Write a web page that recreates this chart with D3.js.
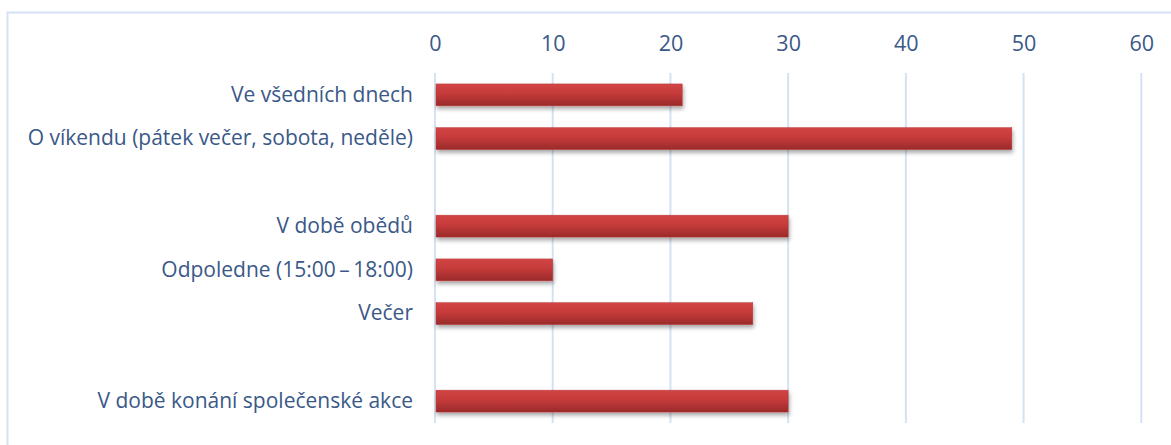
<!DOCTYPE html>
<html>
<head>
<meta charset="utf-8">
<script src="https://cdn.jsdelivr.net/npm/d3@7"></script>
<style>
  html, body { margin: 0; padding: 0; background: #fff; }
  svg { display: block; }
</style>
</head>
<body>
<svg id="chart" width="1171" height="445"></svg>
<script>
// Categories top to bottom; empty strings are spacer rows between groups
const categories = [
  "Ve všedních dnech",
  "O víkendu (pátek večer, sobota, neděle)",
  "",
  "V době obědů",
  "Odpoledne (15:00\u2009–\u200918:00)",
  "Večer",
  " ",
  "V době konání společenské akce"
];
const values = [21, 49, null, 30, 10, 27, null, 30];
const tickValues = [0, 10, 20, 30, 40, 50, 60];

const rows = categories.map((c, i) => ({ key: i, label: c, value: values[i] }));

const W = 1171, H = 445;
const plot = { left: 435, right: 1141.3, top: 73, bottom: 423 };
const textColor = "#3a5888";
const gridColor = "#d4e2f3";
const font = "Open Sans, Liberation Sans, sans-serif";

const svg = d3.select("#chart");

// Outer frame (top and left edges)
svg.append("path")
  .attr("d", `M7.5,${H} V12.5 H${W}`)
  .attr("fill", "none")
  .attr("stroke", gridColor)
  .attr("stroke-width", 2);

const x = d3.scaleLinear().domain([0, 60]).range([plot.left, plot.right]);
const y = d3.scaleBand()
  .domain(rows.map(d => d.key))
  .range([plot.top, plot.bottom])
  .paddingInner(0.5)
  .paddingOuter(0.25);

// Bar gradient and soft drop shadow
const defs = svg.append("defs");
const grad = defs.append("linearGradient")
  .attr("id", "barGrad").attr("x1", 0).attr("y1", 0).attr("x2", 0).attr("y2", 1);
grad.append("stop").attr("offset", "0%").attr("stop-color", "#d24545");
grad.append("stop").attr("offset", "45%").attr("stop-color", "#c53a3a");
grad.append("stop").attr("offset", "100%").attr("stop-color", "#9a2a2a");

const shadow = defs.append("filter").attr("id", "barShadow")
  .attr("x", "-5%").attr("y", "-30%").attr("width", "110%").attr("height", "180%");
shadow.append("feGaussianBlur").attr("in", "SourceAlpha").attr("stdDeviation", 2).attr("result", "blur");
shadow.append("feOffset").attr("dx", 1).attr("dy", 3).attr("result", "off");
shadow.append("feComponentTransfer").append("feFuncA").attr("type", "linear").attr("slope", 0.35);
const merge = shadow.append("feMerge");
merge.append("feMergeNode");
merge.append("feMergeNode").attr("in", "SourceGraphic");

// Vertical gridlines
svg.append("g")
  .selectAll("line")
  .data(tickValues)
  .join("line")
  .attr("x1", d => x(d)).attr("x2", d => x(d))
  .attr("y1", plot.top).attr("y2", plot.bottom)
  .attr("stroke", gridColor)
  .attr("stroke-width", 2);

// Top axis labels
const xAxis = d3.axisTop(x).tickValues(tickValues).tickSize(0).tickPadding(0);
const gx = svg.append("g").attr("transform", `translate(0,${plot.top - 22})`).call(xAxis);
gx.select(".domain").remove();
gx.selectAll("text")
  .attr("fill", textColor)
  .style("font-family", font)
  .style("font-size", "21.5px");

// Category labels
const yAxis = d3.axisLeft(y).tickSize(0).tickPadding(22)
  .tickFormat(k => rows[k].label);
const gy = svg.append("g").attr("transform", `translate(${plot.left},0)`).call(yAxis);
gy.select(".domain").remove();
gy.selectAll("text")
  .attr("fill", textColor)
  .style("font-family", font)
  .style("font-size", "21px");

// Bars
svg.append("g")
  .selectAll("rect")
  .data(rows.filter(d => d.value != null))
  .join("rect")
  .attr("x", x(0) + 1)
  .attr("y", d => y(d.key))
  .attr("width", d => x(d.value) - x(0) - 1)
  .attr("height", y.bandwidth())
  .attr("fill", "url(#barGrad)")
  .attr("stroke", "#b83a3a")
  .attr("stroke-width", 0.5)
  .attr("filter", "url(#barShadow)");
</script>
</body>
</html>
